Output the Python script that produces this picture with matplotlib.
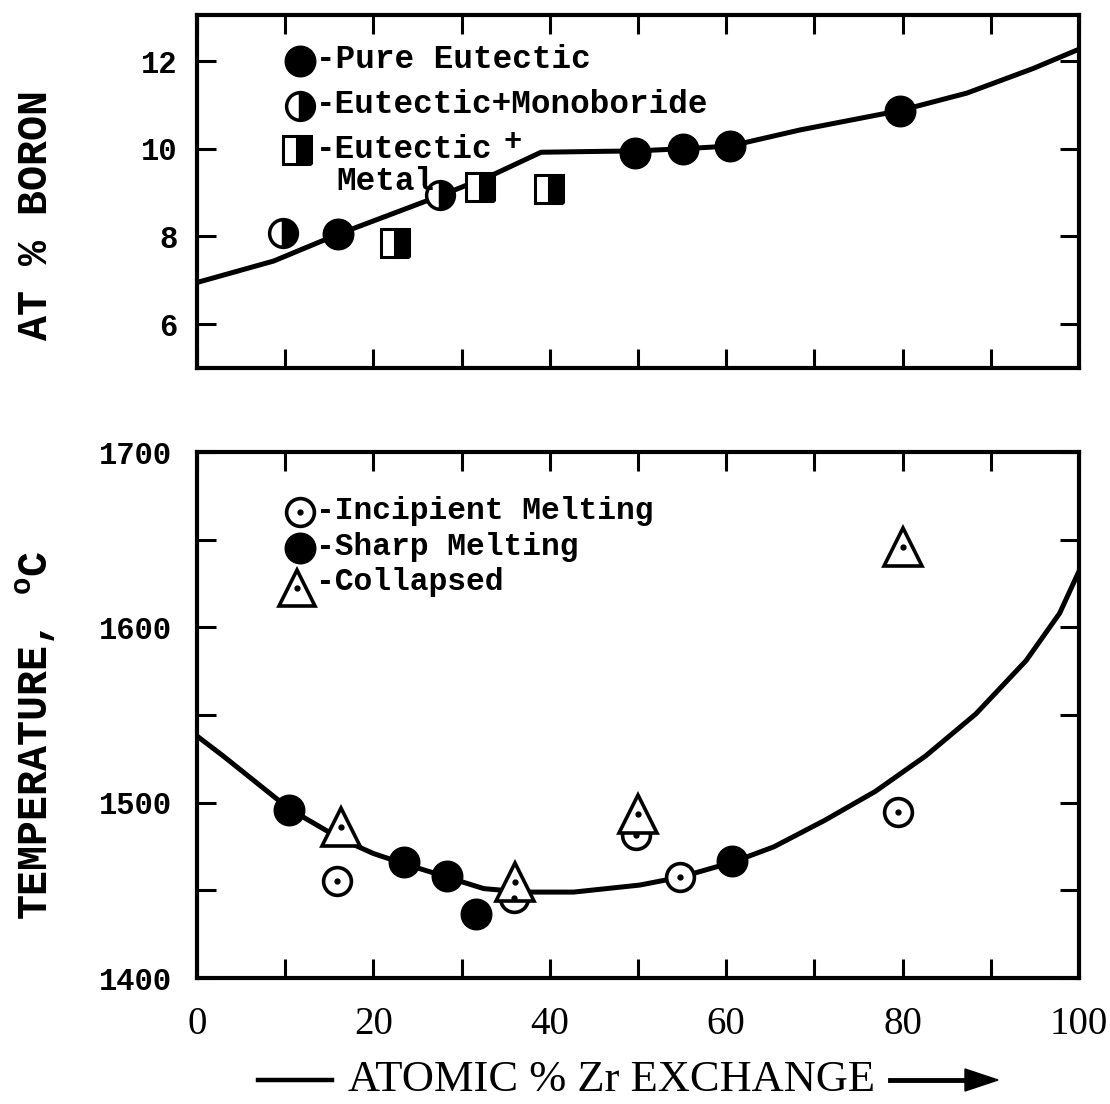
import matplotlib
matplotlib.use("Agg")
import matplotlib.pyplot as plt
from matplotlib.lines import Line2D
from matplotlib.patches import Polygon

plt.rcParams['mathtext.fontset'] = 'custom'
plt.rcParams['mathtext.rm'] = 'Liberation Mono:bold'

# ---------------- data ----------------
# top panel: AT % BORON vs atomic % Zr exchange
pure_x = [16.0, 49.7, 55.1, 60.4, 79.7]
pure_y = [8.05, 9.91, 10.0, 10.06, 10.87]
mono_x = [9.8, 27.6]
mono_y = [8.09, 8.95]
metal_x = [22.5, 32.1, 39.9]
metal_y = [7.84, 9.12, 9.08]
boron_curve_x = [0, 8.7, 16, 27.6, 33.8, 39, 45.7, 49.7, 55.1, 60.4, 68.4, 79.7, 87.3, 94.8, 100]
boron_curve_y = [6.95, 7.44, 8.05, 8.93, 9.43, 9.92, 9.94, 9.95, 10.0, 10.06, 10.43, 10.87, 11.27, 11.83, 12.27]

# bottom panel: temperature
sharp_x = [10.4, 23.5, 28.4, 31.6, 60.7]
sharp_y = [1496, 1466, 1458, 1436.6, 1466.5]
incip_x = [15.9, 35.9, 49.8, 54.8, 79.5]
incip_y = [1455.3, 1445.5, 1481.7, 1457.5, 1494.4]
coll_x = [16.3, 36.1, 50.0, 80.1]
coll_y = [1486, 1455, 1493.6, 1645.6]
temp_curve_x = [0, 3.0, 6.8, 10.5, 16.2, 20.0, 23.4, 28.3, 32.5, 37.0, 42.7, 50.2, 54.8,
                60.7, 65.4, 71.2, 76.9, 82.6, 88.3, 94.0, 97.8, 100]
temp_curve_y = [1538, 1526.5, 1511.2, 1496.3, 1479.6, 1471, 1465.3, 1457.6, 1451, 1449, 1449,
                1453, 1457.5, 1466, 1474.8, 1490, 1506.4, 1526.6, 1550.6, 1581, 1608, 1632]

x_ticks = [0, 10, 20, 30, 40, 50, 60, 70, 80, 90, 100]
x_ticklabels = ['0', '', '20', '', '40', '', '60', '', '80', '', '100']
boron_ticks = [6, 8, 10, 12]
temp_ticks = [1400, 1450, 1500, 1550, 1600, 1650, 1700]
temp_ticklabels = ['1400', '', '1500', '', '1600', '', '1700']

# ---------------- figure ----------------
W, H = 1110, 1104
fig = plt.figure(figsize=(W / 100, H / 100), dpi=100)

def ax_rect(l, t, r, b):
    return [l / W, 1 - b / H, (r - l) / W, (b - t) / H]

ax1 = fig.add_axes(ax_rect(197, 15, 1079, 368))
ax2 = fig.add_axes(ax_rect(197, 452, 1079, 978))

MONO = 'Liberation Mono'
NARROW = 'Liberation Serif'
LW = 3.6
for ax in (ax1, ax2):
    for s in ax.spines.values():
        s.set_linewidth(3.0)
    ax.tick_params(which='both', direction='in', length=14, width=2.2,
                   top=True, right=True)
    ax.set_xlim(0, 100)
    ax.set_xticks(x_ticks)

# top panel
ax1.set_ylim(5, 13.05)
ax1.set_yticks(boron_ticks)
ax1.set_yticklabels([str(t) for t in boron_ticks], family=MONO, weight='bold', fontsize=22)
ax1.set_xticklabels([])
ax1.tick_params(axis='y', pad=14)

ax1.plot(boron_curve_x, boron_curve_y, color='black', lw=LW, zorder=2)
ax1.plot(pure_x, pure_y, 'o', ms=22, color='black', mec='black', zorder=3)
ax1.plot(mono_x, mono_y, 'o', ms=20, mew=2.5, fillstyle='right', markerfacecolor='black',
         markerfacecoloralt='white', mec='black', zorder=3)
ax1.plot(metal_x, metal_y, 's', ms=20, mew=2.2, fillstyle='right', markerfacecolor='black',
         markerfacecoloralt='white', mec='black', zorder=3)

# legends drawn in axes fraction
def fx(px):
    return (px - 197) / 882
def fy1(py):
    return (368 - py) / 353
def fy2(py):
    return (978 - py) / 526

tr1 = ax1.transAxes
ax1.plot([fx(300)], [fy1(61)], 'o', ms=22, color='black', transform=tr1, clip_on=False)
ax1.plot([fx(300)], [fy1(106)], 'o', ms=20, mew=2.5, fillstyle='right', markerfacecolor='black',
         markerfacecoloralt='white', mec='black', transform=tr1, clip_on=False)
ax1.plot([fx(297)], [fy1(150)], 's', ms=20, mew=2.2, fillstyle='right', markerfacecolor='black',
         markerfacecoloralt='white', mec='black', transform=tr1, clip_on=False)
LEG1 = dict(transform=tr1, family=MONO, weight='bold', fontsize=23.5, va='center')
ax1.text(fx(316), fy1(60), '-Pure Eutectic', **LEG1)
ax1.text(fx(316), fy1(105), '-Eutectic+Monoboride', **LEG1)
ax1.text(fx(316), fy1(150), '-Eutectic', **LEG1)
ax1.text(fx(513), fy1(142), '+', transform=tr1, family=MONO, weight='bold', fontsize=22,
         va='center', ha='center')
ax1.text(fx(336), fy1(182), 'Metal', **LEG1)

# bottom panel
ax2.set_ylim(1400, 1700)
ax2.set_yticks(temp_ticks)
ax2.set_yticklabels(temp_ticklabels, family=MONO, weight='bold', fontsize=22)
ax2.set_xticklabels(x_ticklabels, family=NARROW, fontsize=28)
ax2.tick_params(axis='y', pad=18)
ax2.tick_params(axis='x', pad=20)

ax2.plot(temp_curve_x, temp_curve_y, color='black', lw=LW, zorder=2)
ax2.plot(sharp_x, sharp_y, 'o', ms=22, color='black', zorder=3)
ax2.plot(incip_x, incip_y, 'o', ms=20, mew=2.6, mfc='white', mec='black', zorder=3)
ax2.plot(incip_x, incip_y, 'o', ms=3.5, color='black', zorder=4)
ax2.plot(coll_x, coll_y, '^', ms=27, mew=2.6, mfc='white', mec='black', zorder=3)
ax2.plot(coll_x, coll_y, 'o', ms=3.5, color='black', zorder=4)

tr2 = ax2.transAxes
ax2.plot([fx(300)], [fy2(512)], 'o', ms=20, mew=2.6, mfc='white', mec='black', transform=tr2, clip_on=False)
ax2.plot([fx(300)], [fy2(512)], 'o', ms=3.5, color='black', transform=tr2, clip_on=False)
ax2.plot([fx(300)], [fy2(548)], 'o', ms=22, color='black', transform=tr2, clip_on=False)
ax2.plot([fx(297)], [fy2(588)], '^', ms=26, mew=2.6, mfc='white', mec='black', transform=tr2, clip_on=False)
ax2.plot([fx(297)], [fy2(588)], 'o', ms=3.5, color='black', transform=tr2, clip_on=False)
LEG2 = dict(transform=tr2, family=MONO, weight='bold', fontsize=22.5, va='center')
ax2.text(fx(316), fy2(511), '-Incipient Melting', **LEG2)
ax2.text(fx(316), fy2(547), '-Sharp Melting', **LEG2)
ax2.text(fx(316), fy2(582), '-Collapsed', **LEG2)

# axis labels
fig.text(36 / W, 1 - 215 / H, 'AT % BORON', rotation=90, family=MONO, weight='bold',
         fontsize=30, ha='center', va='center')
fig.text(36 / W, 1 - 735 / H, r'TEMPERATURE, $^{\rm o}$C', rotation=90, family=MONO,
         weight='bold', fontsize=30, ha='center', va='center')

yl = 1 - 1080 / H
fig.text(612 / W, yl, 'ATOMIC % Zr EXCHANGE', family=NARROW, fontsize=32,
         ha='center', va='center')
fig.add_artist(Line2D([258 / W, 332 / W], [yl, yl], lw=3.2, color='black', transform=fig.transFigure))
fig.add_artist(Line2D([890 / W, 970 / W], [yl, yl], lw=3.5, color='black', transform=fig.transFigure))
fig.add_artist(Polygon([[965 / W, yl + 11 / H], [998 / W, yl], [965 / W, yl - 11 / H]],
                       closed=True, color='black', transform=fig.transFigure))

fig.savefig('out.png', dpi=100, facecolor='white')
